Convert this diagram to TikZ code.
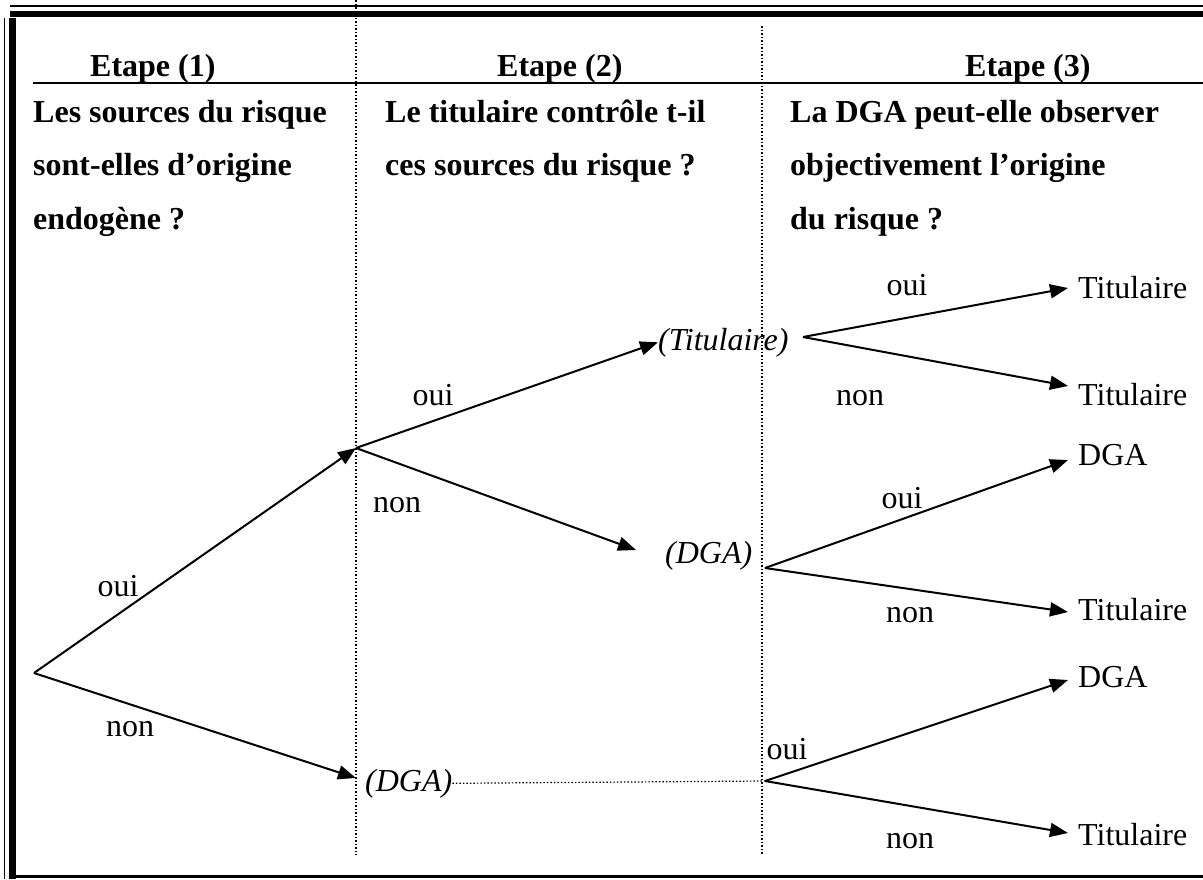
\documentclass[tikz,border=0pt]{standalone}
\usepackage{fontspec}
\setmainfont{Liberation Serif}
\usetikzlibrary{arrows.meta}
\begin{document}
\begin{tikzpicture}[x=1pt,y=-1pt,
  txt/.style={inner sep=0pt,font=\fontsize{32}{38}\selectfont},
  hd/.style={txt,font=\fontsize{32}{38}\selectfont\bfseries,anchor=base west},
  lab/.style={txt,anchor=base},
  leaf/.style={txt,anchor=base west},
  mid/.style={txt,anchor=base west,font=\fontsize{32}{38}\selectfont\itshape},
  br/.style={line width=2pt},
  arr/.style={br,-{Triangle[length=18pt,width=14pt]}},
  sep/.style={line width=1.5pt,dotted},
]
\useasboundingbox (0,0) rectangle (1203,879);
% frame
\draw[line width=2pt] (10,6) -- (1203,6);
\draw[line width=6pt] (10,14) -- (1203,14);
\draw[line width=1.5pt] (4.5,18) -- (4.5,879);
\draw[line width=7pt] (12.5,18) -- (12.5,879);
\draw[line width=3pt] (16,876) -- (1203,876);
\draw[line width=2pt] (33,83) -- (1203,83);
% column separators
\draw[sep] (356,0) -- (356,855);
\draw[sep] (762,26) -- (762,855);
% headings
\node[hd] (e1) at (90,76) {Etape (1)};
\node[hd] (e2) at (497,76) {Etape (2)};
\node[hd] (e3) at (965,76) {Etape (3)};
\node[hd] (q1a) at (33,122) {Les sources du risque};
\node[hd] (q1b) at (33,175) {sont-elles d’origine};
\node[hd] (q1c) at (33,229) {endogène ?};
\node[hd] (q2a) at (385,122) {Le titulaire contrôle t-il};
\node[hd] (q2b) at (385,175) {ces sources du risque ?};
\node[hd] (q3a) at (790,122) {La DGA peut-elle observer};
\node[hd] (q3b) at (790,175) {objectivement l’origine};
\node[hd] (q3c) at (790,229) {du risque ?};
% tree points
\coordinate (root) at (34,673);
\coordinate (n1) at (356,448);
\coordinate (n2in) at (356,778);
\coordinate (d1in) at (636,550);
\node[mid] (t1) at (658,350) {(Titulaire)};
\node[mid] (d1) at (665,563) {(DGA)};
\node[mid] (d2) at (365,791) {(DGA)};
\coordinate (t1out) at (803,337);
\coordinate (d1out) at (765,568);
\coordinate (d2out) at (765,781);
% leaves
\node[leaf] (l1) at (1078,298) {Titulaire};
\node[leaf] (l2) at (1078,405) {Titulaire};
\node[leaf] (l3) at (1078,465) {DGA};
\node[leaf] (l4) at (1078,620) {Titulaire};
\node[leaf] (l5) at (1078,687) {DGA};
\node[leaf] (l6) at (1078,845) {Titulaire};
\coordinate (l1in) at (1068,288);
\coordinate (l2in) at (1068,386);
\coordinate (l3in) at (1068,460);
\coordinate (l4in) at (1068,612);
\coordinate (l5in) at (1068,680);
\coordinate (l6in) at (1068,833);
% branches
\draw[arr] (root) -- (n1);
\draw[arr] (root) -- (n2in);
\draw[arr] (n1) -- (t1.west);
\draw[arr] (n1) -- (d1in);
\draw[arr] (t1out) -- (l1in);
\draw[arr] (t1out) -- (l2in);
\draw[arr] (d1out) -- (l3in);
\draw[arr] (d1out) -- (l4in);
\draw[arr] (d2out) -- (l5in);
\draw[arr] (d2out) -- (l6in);
\draw[sep,line width=1.2pt] (d2.east) -- (d2out);
% branch labels
\node[lab] (o1) at (118,596) {oui};
\node[lab] (no1) at (130,736) {non};
\node[lab] (o2) at (433,405) {oui};
\node[lab] (no2) at (397,512) {non};
\node[lab] (o3) at (907,295) {oui};
\node[lab] (no3) at (860,405) {non};
\node[lab] (o4) at (902,508) {oui};
\node[lab] (no4) at (910,622) {non};
\node[lab] (o5) at (787,759) {oui};
\node[lab] (no5) at (910,848) {non};
\end{tikzpicture}
\end{document}
